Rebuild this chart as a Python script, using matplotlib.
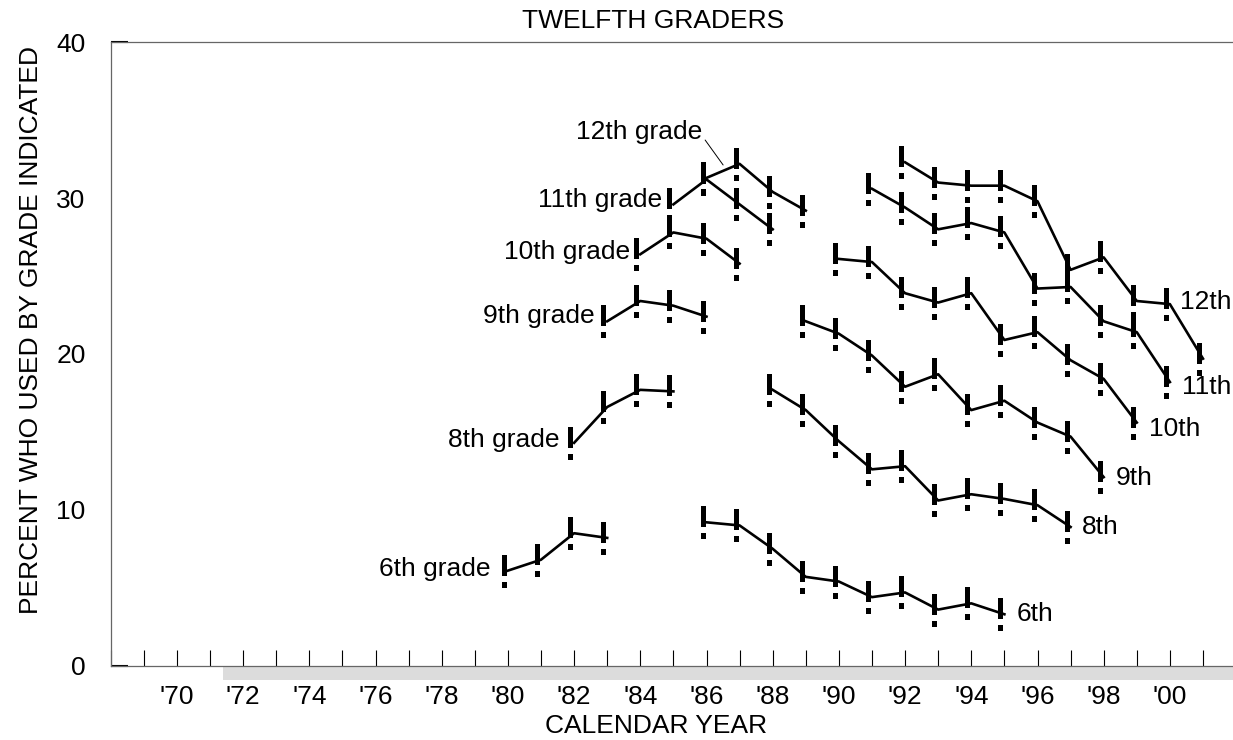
import numpy as np
import matplotlib.pyplot as plt
from matplotlib.path import Path
from matplotlib.patches import Rectangle
import matplotlib.transforms as mtransforms

plt.rcParams['font.family'] = ['Liberation Sans', 'DejaVu Sans']

# Percent who used, by the grade in which use was first reported.
years = list(range(1980, 2002))
nan = np.nan
grade_6 = [6.1, 6.8, 8.5, 8.2, nan, nan, 9.2, 9.0, 7.5, 5.7, 5.4,
           4.4, 4.7, 3.6, 4.0, 3.3, nan, nan, nan, nan, nan, nan]
grade_8 = [nan, nan, 14.3, 16.6, 17.7, 17.6, nan, nan, 17.7, 16.4, 14.4,
           12.6, 12.8, 10.6, 11.0, 10.7, 10.3, 8.9, nan, nan, nan, nan]
grade_9 = [nan, nan, nan, 22.1, 23.4, 23.1, 22.4, nan, nan, 22.1, 21.3,
           19.9, 17.9, 18.7, 16.4, 17.0, 15.6, 14.7, 12.1, nan, nan, nan]
grade_10 = [nan, nan, nan, nan, 26.4, 27.8, 27.4, 25.8, nan, nan, 26.1,
            25.9, 23.9, 23.3, 23.9, 20.9, 21.4, 19.6, 18.4, 15.6, nan, nan]
grade_11 = [nan, nan, nan, nan, nan, 29.6, 31.2, 29.6, 28.0, nan, nan,
            30.6, 29.4, 28.0, 28.4, 27.8, 24.2, 24.3, 22.1, 21.4, 18.2, nan]
grade_12 = [nan, nan, nan, nan, nan, nan, 31.3, 32.2, 30.4, 29.2, nan,
            nan, 32.3, 31.0, 30.8, 30.8, 29.8, 25.4, 26.2, 23.4, 23.2, 19.7]

series = [grade_6, grade_8, grade_9, grade_10, grade_11, grade_12]
start_labels = ['6th grade', '8th grade', '9th grade', '10th grade',
                '11th grade', '12th grade']
end_labels = ['6th', '8th', '9th', '10th', '11th', '12th']

FS = 19

# "!" shaped marker (pixel units, y up), bar sits a little left of the point
bar = [(-5.8, -5), (-1.4, -5), (-1.4, 16.5), (-5.8, 16.5), (-5.8, -5)]
dot = [(-6.0, -17), (-1.2, -17), (-1.2, -11.5), (-6.0, -11.5), (-6.0, -17)]
codes = [Path.MOVETO, Path.LINETO, Path.LINETO, Path.LINETO, Path.CLOSEPOLY]
bang = Path(bar + dot, codes + codes)

fig = plt.figure(figsize=(12.33, 7.40), dpi=100)
ax = fig.add_axes([110.7 / 1233, 74.3 / 740, 1 - 110.7 / 1233, 623.4 / 740])

for vals in series:
    ax.plot(years, vals, color='black', lw=1.9, marker=bang,
            ms=34 / 1.389, mfc='black', mew=0)

# Labels at the start of each first segment
start_offsets = [(-17, 2), (-15, 3), (-13, 5), (-10, 2), (-11, 4)]
for vals, lab, off in zip(series[:5], start_labels[:5], start_offsets):
    i = next(k for k, v in enumerate(vals) if not np.isnan(v))
    ax.annotate(lab, (years[i], vals[i]), xytext=off,
                textcoords='offset pixels', ha='right', va='center',
                fontsize=FS)

# 12th grade label with leader line
xl = 1986.6
yl = np.interp(xl, years[6:8], grade_12[6:8])
ax.annotate(start_labels[5], (xl, yl), xytext=(-24, 37),
            textcoords='offset pixels', ha='right', va='center', fontsize=FS,
            arrowprops=dict(arrowstyle='-', lw=0.7, color='black',
                            relpos=(1.02, 0.2), shrinkA=0, shrinkB=4))

# Labels at the end of each series
end_offsets = [(12, 0), (11, 0), (12, -1), (12, -6), (12, -5), (10, 2)]
for n, (vals, lab, off) in enumerate(zip(series, end_labels, end_offsets)):
    idx = [k for k, v in enumerate(vals) if not np.isnan(v)]
    i = idx[-2] if n == 5 else idx[-1]
    ax.annotate(lab, (years[i], vals[i]), xytext=off,
                textcoords='offset pixels', ha='left', va='center',
                fontsize=FS)

ax.set_xlim(1968, 1968 + (1233 - 110.7) / 33.1)
ax.set_ylim(0, 40)

xt = list(range(1968, 2002))
ax.set_xticks(xt)
ax.set_xticklabels(["'%02d" % (y % 100) if y % 2 == 0 and 1970 <= y <= 2000
                    else '' for y in xt])
ax.set_yticks([0, 10, 20, 30, 40])
ax.tick_params(axis='x', direction='in', length=11.5, width=0.8,
               color='black', pad=14, labelsize=FS)
ax.tick_params(axis='y', direction='in', length=12.5, width=1.5,
               color='black', pad=18, labelsize=FS)
for t in ax.yaxis.get_major_ticks()[1:4]:
    t.tick1line.set_markersize(0)

for side in ['left', 'top', 'bottom']:
    ax.spines[side].set_color('#666666')
    ax.spines[side].set_linewidth(0.9)
ax.spines['right'].set_visible(False)

# gray strip under the year axis
trans = mtransforms.blended_transform_factory(ax.transData, ax.transAxes)
ax.add_patch(Rectangle((1971.4, -14 / 623.4), 40, 14 / 623.4,
                       transform=trans, clip_on=False,
                       facecolor='#dcdcdc', edgecolor='none', zorder=0))

fig.text(653 / 1233, 1 - 21 / 740, 'TWELFTH GRADERS', ha='center',
         va='center', fontsize=FS)
fig.text(656 / 1233, 1 - 726 / 740, 'CALENDAR YEAR', ha='center',
         va='center', fontsize=FS)
fig.text(31 / 1233, 1 - 330 / 740, 'PERCENT WHO USED BY GRADE INDICATED',
         ha='center', va='center', rotation=90, fontsize=FS)

fig.savefig('out.png', dpi=100)
